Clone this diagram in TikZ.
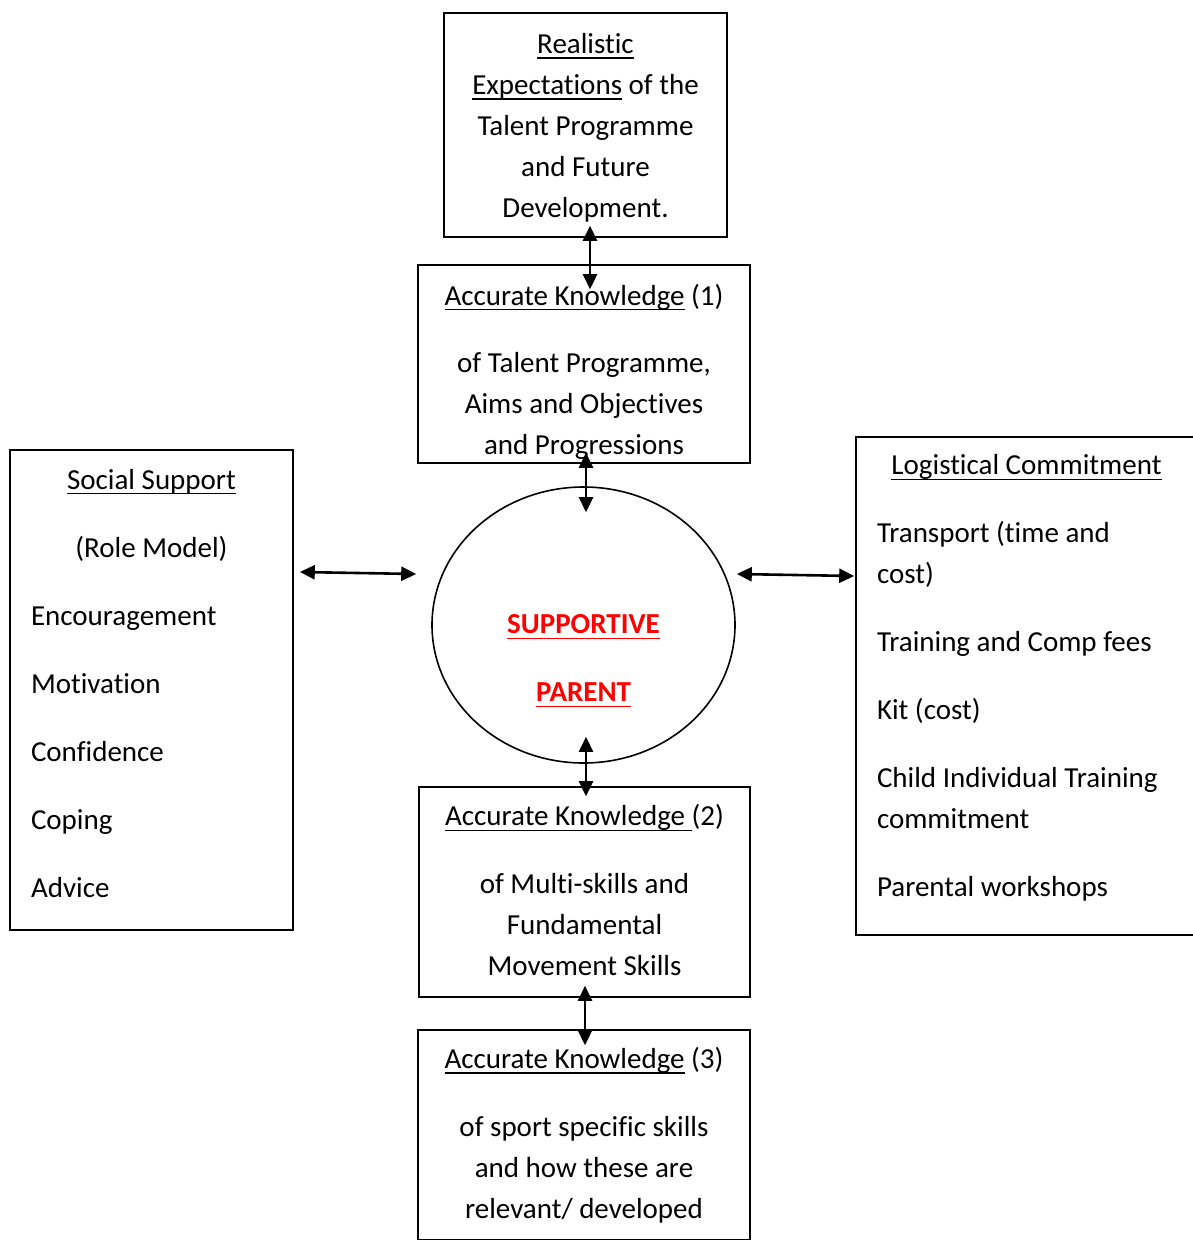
\documentclass[tikz,border=0pt]{standalone}
\usepackage{fontspec}
\setmainfont{Carlito}[Ligatures={NoCommon,NoContextual}]
\usetikzlibrary{arrows.meta,shapes.geometric}
\newsavebox{\ulbox}
\newcommand{\uln}[1]{\sbox{\ulbox}{#1}\rlap{\rule[-5.4pt]{\wd\ulbox}{1.4pt}}\usebox{\ulbox}}
\tikzset{
  box/.style={draw=black, line width=1.6pt, align=center, inner sep=0pt, font=\fontsize{29}{41}\selectfont},
  listbox/.style={draw=black, line width=1.6pt, align=flush left, inner xsep=21pt, inner ysep=0pt, font=\fontsize{29}{41}\selectfont},
  hub/.style={draw=black, ellipse, line width=1.6pt, inner sep=0pt},
  hubtext/.style={align=center, text=red, font=\fontsize{29}{41}\selectfont\bfseries},
  dblarrow/.style={{Triangle[length=15pt,width=14pt]}-{Triangle[length=15pt,width=14pt]}, line width=2.6pt}
}

\begin{document}
\begin{tikzpicture}[x=1pt, y=-1pt]
\fill[white] (0,0) rectangle (1193,1240);
\useasboundingbox (0,0) rectangle (1193,1240);
\node[box, minimum width=283pt, minimum height=224pt] (real) at (585.5,125) {\uln{Realistic}\rule{0pt}{25pt}\\\uln{Expectations} of the\\Talent Programme\\and Future\\Development.};
\node[box, minimum width=332pt, minimum height=198pt] (ak1) at (584,364) {\uln{Accurate Knowledge} (1)\rule{0pt}{36pt}\\[26pt]of Talent Programme,\\Aims and Objectives\\and Progressions};
\node[hub, minimum width=303pt, minimum height=276pt] (parent) at (583.5,625) {};
\node[hubtext] (parenttext) at (583.5,661) {\uln{SUPPORTIVE}\\[27pt]\uln{PARENT}};
\node[listbox, text width=241pt, minimum height=480pt] (social) at (151.5,690) {\makebox[\linewidth][c]{\uln{Social Support}}\\[27pt]\makebox[\linewidth][c]{(Role Model)}\\[27pt]Encouragement\\[27pt]Motivation\\[27pt]Confidence\\[27pt]Coping\\[27pt]Advice\rule[-14pt]{0pt}{0pt}};
\node[listbox, text width=299pt, minimum height=498pt] (logi) at (1026.5,686) {\makebox[\linewidth][c]{\uln{Logistical Commitment}}\\[27pt]Transport (time and\\cost)\\[27pt]Training and Comp fees\\[27pt]Kit (cost)\\[27pt]Child Individual Training\\commitment\\[27pt]Parental workshops\rule[-21pt]{0pt}{0pt}};
\node[box, minimum width=331pt, minimum height=210pt] (ak2) at (584.5,892) {\uln{Accurate Knowledge\ }(2)\\[27pt]of Multi-skills and\\Fundamental\\Movement Skills\rule[-4pt]{0pt}{0pt}};
\node[box, minimum width=332pt, minimum height=210pt] (ak3) at (584,1135) {\uln{Accurate Knowledge} (3)\\[27pt]of sport specific skills\\and how these are\\relevant/ developed};
\draw[dblarrow] ([xshift=4.5pt,yshift=12pt]real.south) -- ([xshift=6pt,yshift=-25pt]ak1.north);
\draw[dblarrow] ([xshift=2pt,yshift=11pt]ak1.south) -- ([xshift=2.5pt,yshift=-26pt]parent.north);
\draw[dblarrow] ([xshift=6pt,yshift=118pt]social.east) -- ([xshift=-15pt,yshift=51pt]parent.west);
\draw[dblarrow] ([xshift=1pt,yshift=51pt]parent.east) -- ([xshift=-1pt,yshift=110pt]logi.west);
\draw[dblarrow] ([xshift=2.5pt,yshift=27pt]parent.south) -- ([xshift=1.5pt,yshift=-10pt]ak2.north);
\draw[dblarrow] ([xshift=0.5pt,yshift=12pt]ak2.south) -- ([xshift=1pt,yshift=-16pt]ak3.north);
\end{tikzpicture}
\end{document}
